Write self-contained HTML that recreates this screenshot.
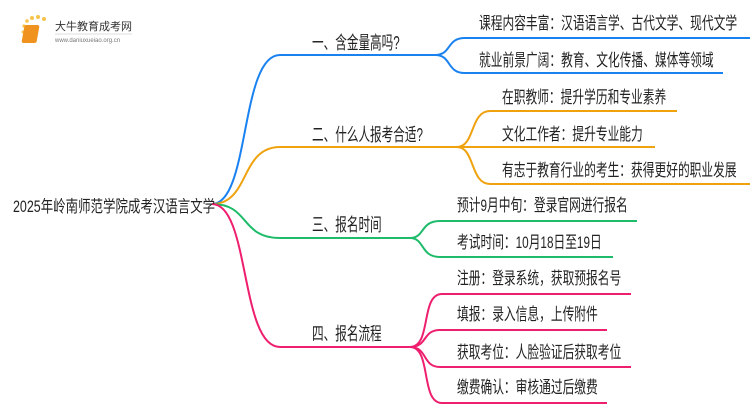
<!DOCTYPE html>
<html><head><meta charset="utf-8"><style>
body{margin:0;width:750px;height:410px;background:#fff;overflow:hidden;position:relative;font-family:"Liberation Sans","Noto Sans CJK SC",sans-serif;}
.t{position:absolute;white-space:nowrap;color:#222;font-size:17px;line-height:18px;transform:scaleX(0.69);transform-origin:0 50%;}
.b{font-size:18px;transform:scaleX(0.645);}
</style></head><body>
<svg width="750" height="410" style="position:absolute;left:0;top:0" fill="none" stroke-width="2">
<g stroke="none">
<circle cx="24" cy="26" r="1.6" fill="#f7c44a"/><circle cx="27" cy="21" r="1.8" fill="#f7c44a"/><circle cx="32" cy="18" r="2" fill="#f7c44a"/><circle cx="38" cy="17" r="2" fill="#f7c44a"/><circle cx="44" cy="19" r="2" fill="#f7c44a"/><circle cx="23" cy="32" r="1.5" fill="#f7c44a"/>
<rect x="29" y="25" width="15" height="18" rx="2" fill="#f0931e" transform="skewX(-10)"/>
</g>
<text x="55" y="30" font-size="11" fill="#333" stroke="none" font-family="Liberation Sans,Noto Sans CJK SC,sans-serif">大牛教育成考网</text>
<text x="55" y="42" font-size="6" fill="#777" stroke="none" font-family="Liberation Sans,sans-serif">www.daniuxueiao.org.cn</text>
<line x1="55" y1="34" x2="132" y2="34" stroke="#ddd" stroke-width="1"/>
<path d="M212 204 C250 204 240 55 280 55 L435 55" stroke="#1a82f0"/>
<path d="M435 55 C452 55 446 38 465 38 L750 38" stroke="#1a82f0"/>
<path d="M435 55 C452 55 446 73 465 73 L723 73" stroke="#1a82f0"/>
<path d="M212 204 C250 204 240 147 280 147 L457 147" stroke="#f0a20e"/>
<path d="M457 147 C475 147 470 111 490 111 L677 111" stroke="#f0a20e"/>
<path d="M457 147 L655 147" stroke="#f0a20e"/>
<path d="M457 147 C475 147 470 184 490 184 L750 184" stroke="#f0a20e"/>
<path d="M212 204 C250 204 240 238 280 238 L410 238" stroke="#1dbb6a"/>
<path d="M410 238 C425 238 420 221 440 221 L637 221" stroke="#1dbb6a"/>
<path d="M410 238 C425 238 420 257 440 257 L613 257" stroke="#1dbb6a"/>
<path d="M212 204 C250 204 240 347 280 347 L410 347" stroke="#ee1f6e"/>
<path d="M410 347 C432 347 420 294 442 294 L631 294" stroke="#ee1f6e"/>
<path d="M410 347 C428 347 422 330 440 330 L607 330" stroke="#ee1f6e"/>
<path d="M410 347 C428 347 422 367 440 367 L631 367" stroke="#ee1f6e"/>
<path d="M410 347 C432 347 420 403 442 403 L607 403" stroke="#ee1f6e"/>
</svg>
<div class="t" style="left:13px;top:198px;font-size:16.5px;transform:scaleX(0.755)">2025年岭南师范学院成考汉语言文学</div>
<div class="t b" style="left:312px;top:34px">一、含金量高吗?</div>
<div class="t b" style="left:312px;top:126px">二、什么人报考合适?</div>
<div class="t b" style="left:312px;top:216px">三、报名时间</div>
<div class="t b" style="left:312px;top:325px">四、报名流程</div>
<div class="t" style="left:479px;top:15px">课程内容丰富：汉语语言学、古代文学、现代文学</div>
<div class="t" style="left:479px;top:52px">就业前景广阔：教育、文化传播、媒体等领域</div>
<div class="t" style="left:502px;top:89px">在职教师：提升学历和专业素养</div>
<div class="t" style="left:502px;top:126px">文化工作者：提升专业能力</div>
<div class="t" style="left:502px;top:162px">有志于教育行业的考生：获得更好的职业发展</div>
<div class="t" style="left:457px;top:197px">预计9月中旬：登录官网进行报名</div>
<div class="t" style="left:457px;top:234px">考试时间：10月18日至19日</div>
<div class="t" style="left:457px;top:270px">注册：登录系统，获取预报名号</div>
<div class="t" style="left:457px;top:306px">填报：录入信息，上传附件</div>
<div class="t" style="left:457px;top:344px">获取考位：人脸验证后获取考位</div>
<div class="t" style="left:457px;top:379px">缴费确认：审核通过后缴费</div>
</body></html>
